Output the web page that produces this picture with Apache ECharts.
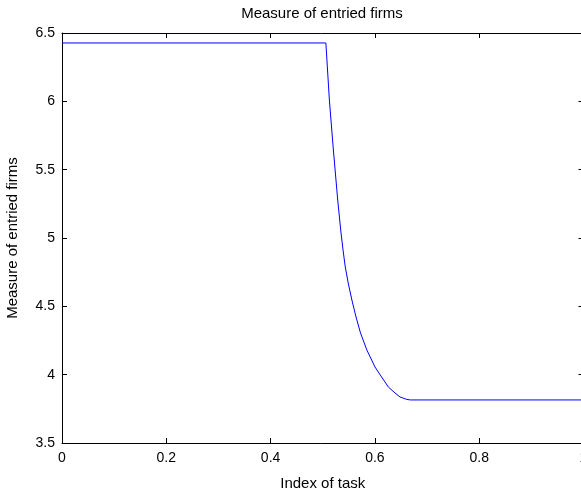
<!DOCTYPE html>
<html>
<head>
<meta charset="utf-8">
<script src="https://cdn.jsdelivr.net/npm/echarts@6/dist/echarts.min.js"></script>
<style>
html,body{margin:0;padding:0;background:#fff;}
#chart{width:581px;height:489px;}
</style>
</head>
<body>
<div id="chart"></div>
<script>
// Data
const chartTitle = "Measure of entried firms";
const xAxisName = "Index of task";
const yAxisName = "Measure of entried firms";
const taskIndex = [0, 0.506, 0.5127, 0.5204, 0.5287, 0.535, 0.5389, 0.5432, 0.5488, 0.5559, 0.5638, 0.5724, 0.5845, 0.6002, 0.6102, 0.6257, 0.6385, 0.6481, 0.661, 0.668, 1.0];
const entriedFirms = [6.427, 6.427, 6.01, 5.644, 5.278, 5.037, 4.912, 4.788, 4.671, 4.546, 4.422, 4.305, 4.181, 4.056, 3.998, 3.91, 3.866, 3.837, 3.819, 3.815, 3.815];
const xTicks = [0, 0.2, 0.4, 0.6, 0.8, 1];
const yTicks = [3.5, 4, 4.5, 5, 5.5, 6, 6.5];

const seriesData = taskIndex.map((x, i) => [x, entriedFirms[i]]);
const font = "'Liberation Sans', Arial, Helvetica, sans-serif";

const chart = echarts.init(document.getElementById('chart'), null, {renderer: 'canvas'});
const tickStyle = {show: true, inside: true, length: 5, lineStyle: {color: '#000', width: 1}};
const lineStyle = {show: true, onZero: false, lineStyle: {color: '#000', width: 1}};
chart.setOption({
  backgroundColor: '#fff',
  animation: false,
  title: {
    text: chartTitle,
    left: 322,
    textAlign: 'center',
    top: 6,
    padding: 0,
    textStyle: {fontFamily: font, fontSize: 15, fontWeight: 'normal', color: '#000'}
  },
  grid: {left: 62, top: 33, width: 521.5, height: 410, containLabel: false, outerBoundsMode: 'none'},
  xAxis: [{
    type: 'value', position: 'bottom',
    min: xTicks[0], max: xTicks[xTicks.length - 1], interval: 0.2,
    name: xAxisName, nameLocation: 'middle', nameGap: 33,
    nameTextStyle: {fontFamily: font, fontSize: 15, color: '#000'},
    axisLine: lineStyle, axisTick: tickStyle, splitLine: {show: false},
    axisLabel: {fontFamily: font, fontSize: 14, color: '#000', margin: 8, formatter: v => String(v)}
  }, {
    type: 'value', position: 'top',
    min: xTicks[0], max: xTicks[xTicks.length - 1], interval: 0.2,
    axisLine: lineStyle, axisTick: tickStyle, splitLine: {show: false},
    axisLabel: {show: false}
  }],
  yAxis: [{
    type: 'value', position: 'left',
    min: yTicks[0], max: yTicks[yTicks.length - 1], interval: 0.5,
    name: yAxisName, nameLocation: 'middle', nameGap: 42, nameRotate: 90,
    nameTextStyle: {fontFamily: font, fontSize: 15, color: '#000'},
    axisLine: lineStyle, axisTick: tickStyle, splitLine: {show: false},
    axisLabel: {fontFamily: font, fontSize: 14, color: '#000', margin: 7, formatter: v => String(v)}
  }, {
    type: 'value', position: 'right',
    min: yTicks[0], max: yTicks[yTicks.length - 1], interval: 0.5,
    axisLine: lineStyle, axisTick: tickStyle, splitLine: {show: false},
    axisLabel: {show: false}
  }],
  series: [{
    type: 'line',
    data: seriesData,
    xAxisIndex: 0, yAxisIndex: 0,
    showSymbol: false, symbol: 'none', smooth: false,
    lineStyle: {color: '#0000ff', width: 1},
    itemStyle: {color: '#0000ff'}
  }]
});
</script>
</body>
</html>
